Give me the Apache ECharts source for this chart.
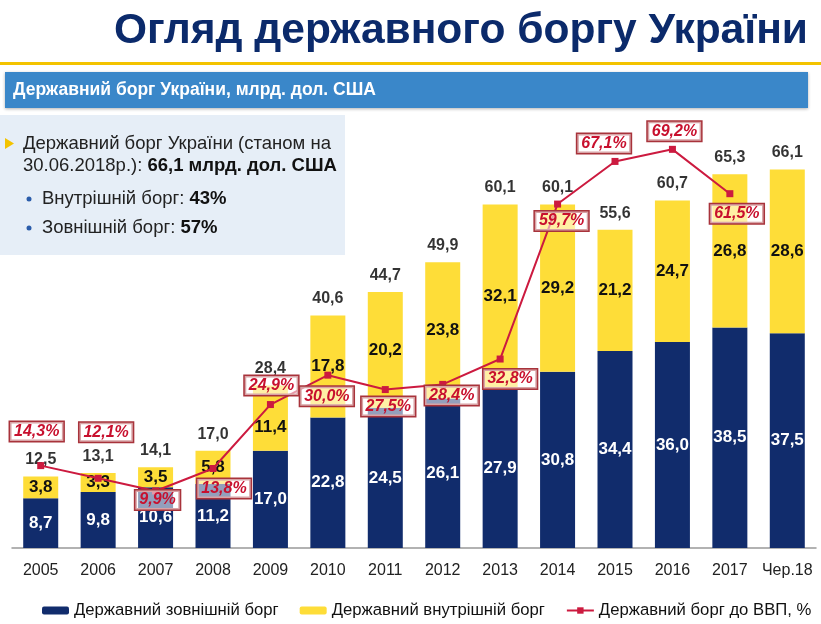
<!DOCTYPE html>
<html><head><meta charset="utf-8">
<script src="https://cdn.jsdelivr.net/npm/echarts@6/dist/echarts.min.js"></script>
<style>html,body{margin:0;padding:0;background:#fff}#c{width:821px;height:624px}</style>
</head><body><div id="c"></div>
<script>
var categories = ['2005','2006','2007','2008','2009','2010','2011','2012','2013','2014','2015','2016','2017','Чер.18'];
var externalDebt = [8.7, 9.8, 10.6, 11.2, 17.0, 22.8, 24.5, 26.1, 27.9, 30.8, 34.4, 36.0, 38.5, 37.5];
var domesticDebt = [3.8, 3.3, 3.5, 5.8, 11.4, 17.8, 20.2, 23.8, 32.1, 29.2, 21.2, 24.7, 26.8, 28.6];
var totalDebt = [12.5, 13.1, 14.1, 17.0, 28.4, 40.6, 44.7, 49.9, 60.1, 60.1, 55.6, 60.7, 65.3, 66.1];
var debtToGdp = [14.3, 12.1, 9.9, 13.8, 24.9, 30.0, 27.5, 28.4, 32.8, 59.7, 67.1, 69.2, 61.5, null];
var seriesNames = ['Державний зовнішній борг', 'Державний внутрішній борг', 'Державний борг до ВВП, %'];

// label offsets (style only)
var pctOffsets = [[-4,-34],[8,-46],[2,9],[11,20],[1,-19],[-1,21],[3,17],[9,11],[10,20],[4,17],[-11,-18],[2,-18],[7,20],[0,0]];
var domLabelOffsets = [[0,0],[0,0],[0,0],[0,0],[0,9],[0,0],[0,0],[0,0],[0,0],[0,0],[0,0],[0,0],[0,0],[0,0]];

var FONT = '"Liberation Sans", Arial, sans-serif';
var fmt = function (v) { return (+v).toFixed(1).replace('.', ','); };

var chart = echarts.init(document.getElementById('c'));
chart.setOption({
  animation: false,
  textStyle: { fontFamily: FONT },
  grid: { left: 12, right: 5, top: 90, bottom: 76 },
  legend: {
    data: seriesNames,
    left: 37, top: 597,
    itemWidth: 27, itemHeight: 8, itemGap: 21,
    textStyle: { fontSize: 16.7, color: '#111', fontFamily: FONT }
  },
  xAxis: {
    type: 'category', data: categories,
    axisLine: { lineStyle: { color: '#999', width: 1.5 } },
    axisTick: { show: false },
    axisLabel: { interval: 0, fontSize: 16, color: '#222', margin: 15, fontFamily: FONT }
  },
  yAxis: [
    { type: 'value', min: 0, max: 80, show: false, splitLine: { show: false } },
    { type: 'value', min: 0, max: 79.5, show: false, splitLine: { show: false } }
  ],
  series: [
    {
      name: seriesNames[0], type: 'bar', stack: 'd', barWidth: 35,
      data: externalDebt,
      itemStyle: { color: '#112c6c' },
      label: { show: true, position: 'inside', color: '#fff', fontSize: 17, fontWeight: 'bold', formatter: function (p) { return fmt(p.value); } }
    },
    {
      name: seriesNames[1], type: 'bar', stack: 'd', barWidth: 35,
      data: domesticDebt.map(function (v, i) { return { value: v, label: { offset: domLabelOffsets[i] } }; }),
      itemStyle: { color: '#fedd38' },
      label: { show: true, position: 'inside', color: '#111', fontSize: 17, fontWeight: 'bold', formatter: function (p) { return fmt(p.value); } }
    },
    {
      name: 'total', type: 'scatter', data: totalDebt, symbolSize: 1,
      itemStyle: { color: 'rgba(0,0,0,0)' }, z: 5,
      label: { show: true, position: 'top', distance: 8, color: '#000', fontSize: 16, fontWeight: 'bold', formatter: function (p) { return fmt(p.value); } }
    },
    {
      name: seriesNames[2], type: 'line', yAxisIndex: 1, z: 6,
      data: debtToGdp.map(function (v, i) {
        return { value: v, label: { offset: pctOffsets[i] } };
      }),
      symbol: 'rect', symbolSize: 7,
      lineStyle: { color: '#cc1a3f', width: 2 },
      itemStyle: { color: '#cc1a3f' },
      label: {
        show: true, position: 'inside',
        formatter: function (p) { return p.value == null ? '' : fmt(p.value) + '%'; },
        color: '#c8102e', fontSize: 16, fontWeight: 'bold', fontStyle: 'italic',
        backgroundColor: 'rgba(255,255,255,0.55)', borderColor: '#a8333b', borderWidth: 1.5,
        padding: [2, 4, 1, 4]
      }
    }
  ],
  graphic: [
    { type: 'text', right: 13, top: 10, style: { text: 'Огляд державного боргу України', font: 'bold 42.5px ' + FONT, fill: '#0b2a6b' } },
    { type: 'rect', shape: { x: 0, y: 62, width: 821, height: 3 }, style: { fill: '#f3c300' } },
    { type: 'rect', shape: { x: 5, y: 72, width: 803, height: 36 }, style: { fill: '#3a87c9', shadowBlur: 3, shadowColor: 'rgba(0,0,0,0.3)', shadowOffsetY: 1 } },
    { type: 'text', left: 13, top: 81, style: { text: 'Державний борг України, млрд. дол. США', font: 'bold 17.5px ' + FONT, fill: '#fff' } },
    { type: 'rect', shape: { x: 0, y: 115, width: 345, height: 140 }, style: { fill: '#e6eef7' } },
    { type: 'polygon', shape: { points: [[5, 138], [5, 149], [14, 143.5]] }, style: { fill: '#f3c300' } },
    { type: 'text', left: 23, top: 134, style: {
        text: '{a|Державний борг України (станом на}\n{a|30.06.2018р.): }{b|66,1 млрд. дол. США}',
        rich: {
          a: { fontSize: 18.5, fontFamily: FONT, fill: '#222', color: '#222', lineHeight: 22 },
          b: { fontSize: 18.5, fontFamily: FONT, fontWeight: 'bold', fill: '#111', color: '#111', lineHeight: 22 }
        } } },
    { type: 'circle', shape: { cx: 29, cy: 199, r: 2.5 }, style: { fill: '#2a5caa' } },
    { type: 'circle', shape: { cx: 29, cy: 228, r: 2.5 }, style: { fill: '#2a5caa' } },
    { type: 'text', left: 42, top: 189, style: {
        text: '{a|Внутрішній борг: }{b|43%}',
        rich: {
          a: { fontSize: 18.5, fontFamily: FONT, fill: '#222', color: '#222' },
          b: { fontSize: 18.5, fontFamily: FONT, fontWeight: 'bold', fill: '#111', color: '#111' }
        } } },
    { type: 'text', left: 42, top: 218, style: {
        text: '{a|Зовнішній борг: }{b|57%}',
        rich: {
          a: { fontSize: 18.5, fontFamily: FONT, fill: '#222', color: '#222' },
          b: { fontSize: 18.5, fontFamily: FONT, fontWeight: 'bold', fill: '#111', color: '#111' }
        } } }
  ]
});
</script></body></html>
